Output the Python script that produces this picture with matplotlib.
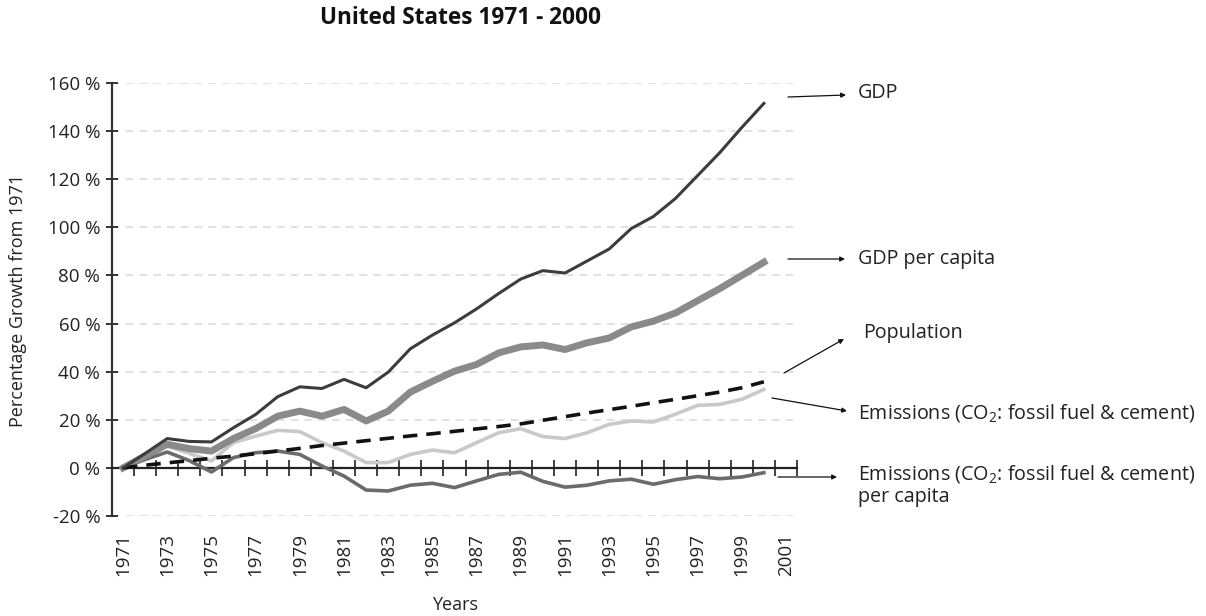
import matplotlib
matplotlib.use("Agg")
import matplotlib.pyplot as plt
import numpy as np

# ---- data (percentage growth from 1971) -----------------------------------
years = list(range(1971, 2001))

gdp = [0, 6, 12.2, 11, 10.8, 16.7, 22.2, 29.6, 33.7, 33.0,
       36.8, 33.3, 39.8, 49.5, 55.2, 60.3, 66.1, 72.5, 78.5, 82.0,
       81.0, 86.0, 91.0, 99.5, 104.5, 112.0, 121.5, 131.0, 141.5, 151.5]

gdp_per_capita = [0, 5, 9.8, 8, 7.0, 12.2, 16.3, 21.5, 23.6, 21.5,
                  24.3, 19.5, 23.6, 31.5, 36.0, 40.2, 43.0, 47.8, 50.3, 51.1,
                  49.2, 52.0, 54.0, 58.6, 61.0, 64.4, 69.5, 74.5, 80.0, 85.5]

population = [0, 1.1, 2.1, 3.0, 4.0, 4.9, 5.9, 7.0, 8.1, 9.3,
              10.3, 11.3, 12.3, 13.3, 14.2, 15.2, 16.2, 17.2, 18.3, 19.8,
              21.3, 22.8, 24.2, 25.6, 27.1, 28.5, 30.0, 31.5, 33.3, 35.8]

emissions = [0, 5, 9.1, 6, 2.9, 10.5, 13.2, 15.6, 15.1, 10.5,
             7.0, 2.2, 2.2, 5.6, 7.4, 6.3, 10.5, 14.6, 16.3, 13.0,
             12.2, 14.6, 18.1, 19.5, 19.1, 22.3, 26.0, 26.4, 28.5, 32.6]

emissions_per_capita = [0, 3.5, 6.6, 3, -1.7, 4.3, 6.3, 7.0, 5.6, 0.8,
                        -3.4, -9.2, -9.6, -7.2, -6.4, -8.2, -5.4, -2.7, -1.8, -5.6,
                        -8.0, -7.2, -5.4, -4.7, -6.8, -4.9, -3.6, -4.5, -3.8, -2.0]

y_ticks = list(range(-20, 161, 20))
x_label_years = list(range(1971, 2002, 2))

plt.rcParams["font.family"] = ["Open Sans", "DejaVu Sans"]
plt.rcParams["mathtext.fontset"] = "custom"
plt.rcParams["mathtext.rm"] = "Open Sans"

FS_TICK = 13.5
FS_SIDE = 14.2

fig = plt.figure(figsize=(12.06, 6.16), dpi=100)
ax = fig.add_axes([112 / 1206, 100 / 616, 685 / 1206, 433 / 616])

# ---- series ----------------------------------------------------------------
ax.plot(years, emissions_per_capita, color="#6b6b6b", lw=2.6, zorder=3)
ax.plot(years, emissions, color="#c9c9c9", lw=2.6, zorder=3)
ax.plot(years, gdp_per_capita, color="#8a8a8a", lw=5.0, zorder=3)
ax.plot(years, population, color="#111111", lw=2.6, ls=(0, (4, 2.5)), zorder=4)
ax.plot(years, gdp, color="#3c3c3c", lw=2.2, zorder=5)

# ---- axes ------------------------------------------------------------------
ax.set_xlim(1970.5, 2001.5)
ax.set_ylim(-20, 160)

for s in ("top", "right"):
    ax.spines[s].set_visible(False)
ax.spines["left"].set_color("#333333")
ax.spines["left"].set_linewidth(1.6)
ax.spines["bottom"].set_position(("data", 0))
ax.spines["bottom"].set_color("#222222")
ax.spines["bottom"].set_linewidth(1.6)

ax.set_yticks(y_ticks)
ax.set_yticklabels([f"{v} %" for v in y_ticks], fontsize=FS_TICK, color="#222222")
ax.tick_params(axis="y", direction="inout", length=9, width=1.4,
               color="#333333", pad=4)
ax.yaxis.grid(True, color="#d8d8d8", lw=1.1, ls=(0, (5, 4)))
ax.set_axisbelow(True)

ax.set_xticks(np.arange(1971.5, 2002, 1))
ax.set_xticklabels([])
ax.tick_params(axis="x", direction="inout", length=12, width=1.2,
               color="#222222")

sec = ax.secondary_xaxis(0)
sec.set_xticks(x_label_years)
sec.set_xticklabels([str(y) for y in x_label_years], rotation=90,
                    fontsize=FS_TICK, color="#222222")
sec.tick_params(length=0, pad=12)
sec.spines["bottom"].set_visible(False)

fig.text(18 / 1206, 1 - 300 / 616, "Percentage Growth from 1971",
         fontsize=13, rotation=90, ha="center", va="center", color="#222222")
fig.text(455 / 1206, 1 - 605 / 616, "Years", fontsize=13,
         ha="center", va="center", color="#222222")
fig.text(460 / 1206, 1 - 18 / 616, "United States 1971 - 2000",
         fontsize=16.3, fontweight="bold", ha="center", va="center",
         color="#111111")

# ---- side labels with arrows ----------------------------------------------
co2 = r"Emissions (CO$\mathregular{_2}$: fossil fuel & cement)"
labels = [
    ("GDP", (788, 97), (846, 95), (858, 93)),
    ("GDP per capita", (788, 259), (845, 259), (858, 259)),
    ("Population", (784, 373), (844, 339), (863, 333)),
    (co2, (772, 398), (847, 411), (858, 413)),
    (co2 + "\nper capita", (778, 477), (837, 477), (858, 485)),
]
H = 616
for text, p0, p1, pt in labels:
    ax.annotate("", xy=(p1[0], H - p1[1]), xytext=(p0[0], H - p0[1]),
                xycoords="figure pixels", textcoords="figure pixels",
                arrowprops=dict(arrowstyle="-|>", lw=0.9, color="#111111",
                                mutation_scale=7, shrinkA=0, shrinkB=0),
                annotation_clip=False)
    fig.text(pt[0] / 1206, 1 - pt[1] / H, text, fontsize=FS_SIDE,
             ha="left", va="center", linespacing=1.15, color="#222222")

fig.savefig("out.png", dpi=100)
